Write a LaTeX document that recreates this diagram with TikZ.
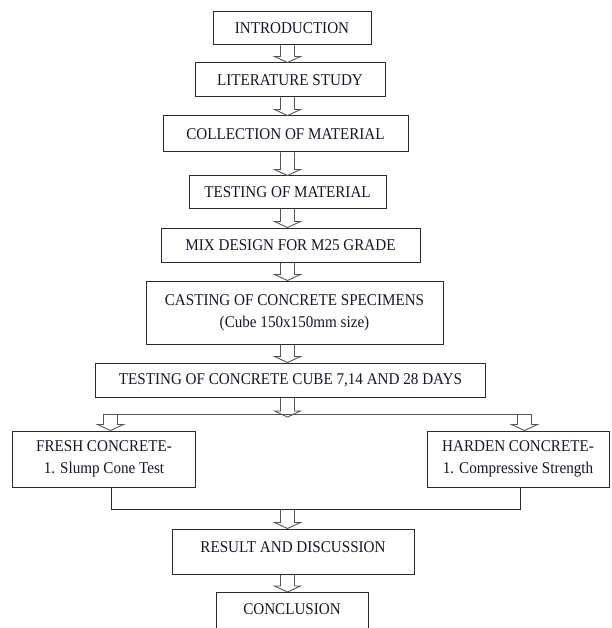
\documentclass[tikz,border=0pt]{standalone}
\usepackage{fontspec}
\setmainfont{Liberation Serif}[FakeStretch=0.92]
\usetikzlibrary{calc}
\definecolor{boxline}{HTML}{2A2A2A}
\definecolor{arrowgray}{HTML}{555555}
\definecolor{txt}{HTML}{15152A}
\tikzset{
  stepbox/.style={draw=boxline, line width=1bp, text=txt, align=center, inner sep=0pt,
    font=\fontsize{16.5}{22}\selectfont},
  arrowline/.style={draw=arrowgray, line width=0.9bp, line join=miter},
  joinline/.style={draw=boxline, line width=1bp}
}
\newcommand\blockarr[2]{\draw[arrowline] let \p1=(#1), \p2=(#2) in
  (\x1-7bp,\y1) -- (\x1-7bp,\y2+6bp) -- (\x1-13bp,\y2+6bp) -- (\x1,\y2)
  -- (\x1+13bp,\y2+6bp) -- (\x1+7bp,\y2+6bp) -- (\x1+7bp,\y1);}
\begin{document}
\begin{tikzpicture}[x=1bp,y=-1bp]
\useasboundingbox (0,0) rectangle (612,628);
\coordinate (ax) at (287.5,0);

\node[stepbox, minimum width=158bp, minimum height=33bp] (intro) at (292,28.5) {INTRODUCTION};
\node[stepbox, minimum width=190bp, minimum height=34bp] (lit) at (290,80) {LITERATURE STUDY};
\node[stepbox, minimum width=245bp, minimum height=36bp] (coll) at (285.5,134) {COLLECTION OF MATERIAL};
\node[stepbox, minimum width=197bp, minimum height=32bp] (testmat) at (287.5,192) {TESTING OF MATERIAL};
\node[stepbox, minimum width=259bp, minimum height=34bp] (mix) at (290.5,245) {MIX DESIGN FOR M25 GRADE};
\node[stepbox, minimum width=297bp, minimum height=63bp] (cast) at (294.5,312.5) {CASTING OF CONCRETE SPECIMENS\\(Cube 150x150mm size)};
\node[stepbox, minimum width=389bp, minimum height=34bp] (cube) at (290.5,380) {TESTING OF CONCRETE CUBE 7,14 AND 28 DAYS};
\node[stepbox, minimum width=182bp, minimum height=56bp] (fresh) at (104,459) {FRESH CONCRETE-\\1. Slump Cone Test};
\node[stepbox, minimum width=182bp, minimum height=56bp] (harden) at (518,459) {HARDEN CONCRETE-\\1. Compressive Strength};
\node[stepbox, minimum width=242bp, minimum height=45bp, text depth=9bp] (result) at (293,551.5) {RESULT AND DISCUSSION};
\node[stepbox, minimum width=152bp, anchor=north, text height=21.5bp, text depth=40bp] (concl) at (292,592) {CONCLUSION};

% main chain arrows
\blockarr{intro.south -| ax}{lit.north -| ax}
\blockarr{lit.south -| ax}{coll.north -| ax}
\blockarr{coll.south -| ax}{testmat.north -| ax}
\blockarr{testmat.south -| ax}{mix.north -| ax}
\blockarr{mix.south -| ax}{cast.north -| ax}
\blockarr{cast.south -| ax}{cube.north -| ax}

% branching
\coordinate (bl) at (103.5,414);
\coordinate (br) at (531.5,414);
\coordinate (lax) at (110.5,414);
\coordinate (rax) at (524.5,414);
\coordinate (bt) at (287.5,417);
\draw[arrowline] (bl) -- (br);
\blockarr{cube.south -| ax}{bt}
\blockarr{lax}{fresh.north -| lax}
\blockarr{rax}{harden.north -| rax}

% merging
\coordinate (ml) at (111,509);
\coordinate (mr) at (520,509);
\draw[joinline] (fresh.south -| ml) -- (ml) -- (mr) -- (harden.south -| mr);
\blockarr{ml -| ax}{result.north -| ax}
\blockarr{result.south -| ax}{concl.north -| ax}
\end{tikzpicture}
\end{document}
